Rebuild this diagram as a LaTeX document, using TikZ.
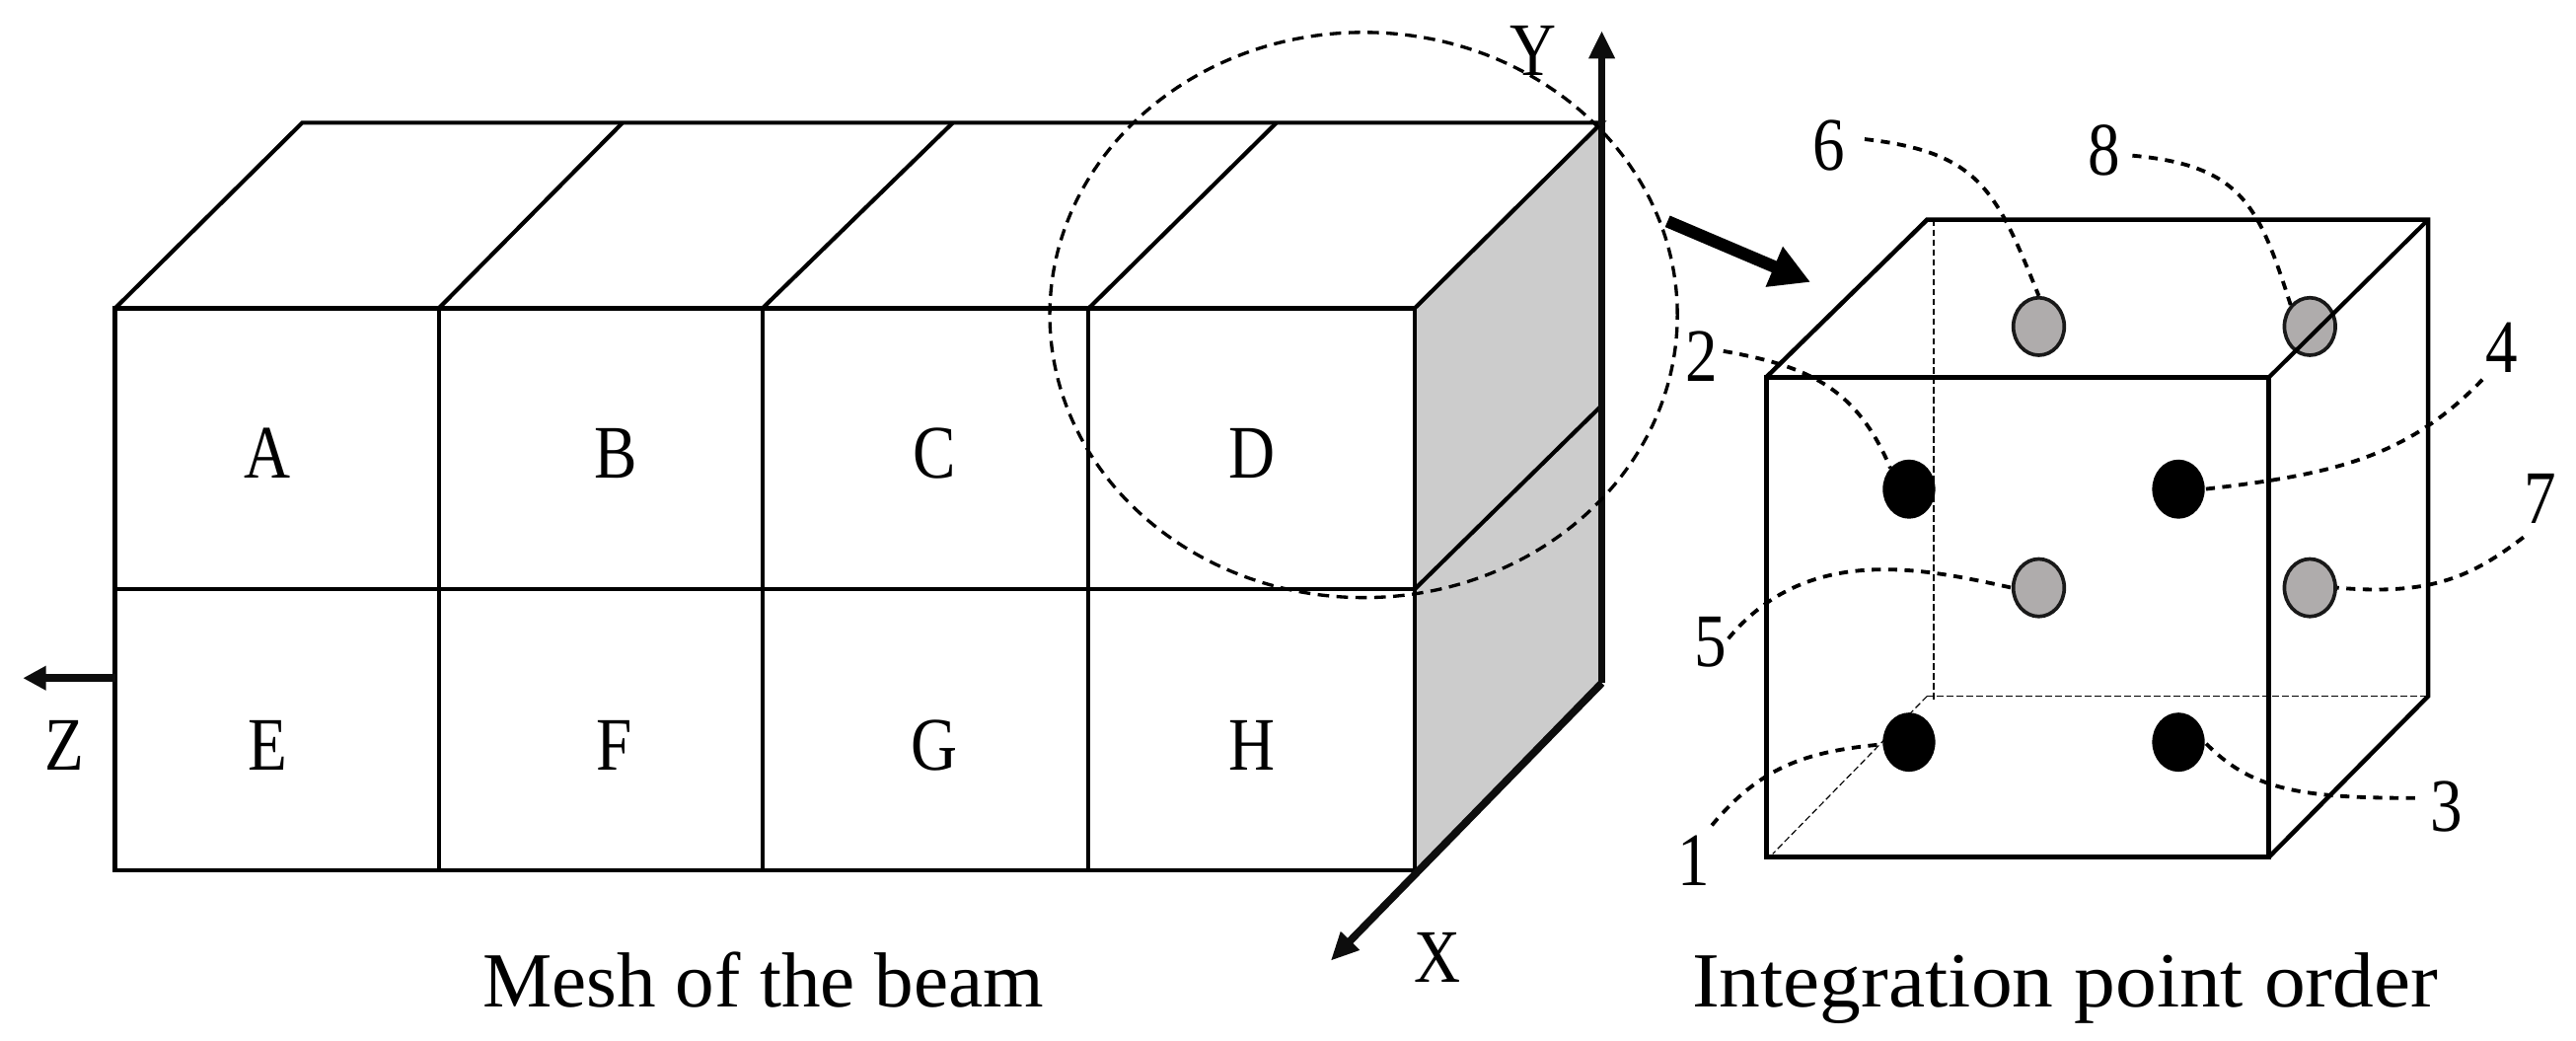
\documentclass[tikz,border=0pt]{standalone}
\usepackage{fontspec}
\setmainfont{Liberation Serif}
\newfontfamily\narrowserif[FakeStretch=0.85]{Liberation Serif}
\newfontfamily\wideserif[FakeStretch=1.056]{Liberation Serif}
\usetikzlibrary{shapes.geometric,arrows.meta}
\tikzset{
  x=1pt,y=-1pt,
  edge/.style={draw=black,line width=2.5pt,line join=miter},
  axis/.style={draw=black!95,line width=4.6pt},
  hidden/.style={draw=black,line width=0.7pt,dash pattern=on 4pt off 2pt},
  leader/.style={draw=black,line width=2.3pt,dash pattern=on 5.5pt off 4.5pt},
  lens/.style={draw=black,line width=2pt,dash pattern=on 7pt off 4.5pt},
  lab/.style={inner sep=0pt,font=\narrowserif\fontsize{46}{50}\selectfont},
  captxt/.style={inner sep=0pt,anchor=base,font=\fontsize{47.5}{52}\selectfont},
  ipblack/.style={ellipse,fill=black,draw=black,line width=1pt,minimum width=31pt,minimum height=35pt,inner sep=0pt},
  ipgray/.style={ellipse,fill=ipg,draw=black!90,line width=2.2pt,minimum width=31pt,minimum height=35pt,inner sep=0pt},
}
\definecolor{ipg}{HTML}{AFACAC}
\definecolor{panel}{HTML}{CCCCCC}
\begin{document}
\begin{tikzpicture}
\useasboundingbox (0,-0.7) rectangle (1568,632.8);
% mesh corners
\coordinate (f0t) at (70,187);\coordinate (f1t) at (267,187);\coordinate (f2t) at (464,187);\coordinate (f3t) at (662.6,187);\coordinate (f4t) at (861,187);
\coordinate (f0m) at (70,358);\coordinate (f4m) at (861,358);
\coordinate (f0b) at (70,529);\coordinate (f1b) at (267,529);\coordinate (f2b) at (464,529);\coordinate (f3b) at (662.6,529);\coordinate (f4b) at (861,529);
\coordinate (b0) at (184,74);\coordinate (b1) at (379,74);\coordinate (b2) at (580,74);\coordinate (b3) at (777,74);\coordinate (b4) at (975,74);
\coordinate (rm) at (975,246);\coordinate (rb) at (975,415);
\coordinate (ytip) at (975,18);\coordinate (xtip) at (810,584);\coordinate (zs) at (70,412);\coordinate (ztip) at (14,412);
\fill[panel] (f4t) -- (b4) -- (rb) -- (f4b) -- cycle;
\draw[edge] (f0t) rectangle (f4b);
\draw[edge] (f0m) -- (f4m);
\draw[edge] (f1t) -- (f1b);
\draw[edge] (f2t) -- (f2b);
\draw[edge] (f3t) -- (f3b);
\draw[edge] (f0t) -- (b0) -- (b4) -- (f4t);
\draw[edge] (f1t) -- (b1);
\draw[edge] (f2t) -- (b2);
\draw[edge] (f3t) -- (b3);
\draw[edge] (f4m) -- (rm);
\draw[axis,-{Triangle[length=17pt,width=15pt]}] (rb) -- (ytip);
\draw[axis,-{Triangle[length=17pt,width=15pt]}] (rb) -- (xtip);
\draw[axis,-{Triangle[length=14pt,width=14pt]}] (zs) -- (ztip);
\node[ellipse,lens,minimum width=382pt,minimum height=344pt,inner sep=0pt] (lensc) at (830,191) {};
% element labels
\node[lab] (A) at (163,275) {A};
\node[lab] (B) at (375,275) {B};
\node[lab] (C) at (569,275) {C};
\node[lab] (D) at (762,275) {D};
\node[lab] (E) at (163,453) {E};
\node[lab] (F) at (374,453) {F};
\node[lab] (G) at (569,453) {G};
\node[lab] (H) at (762,453) {H};
\node[lab] (Z) at (39,453) {Z};
\node[lab] (Y) at (933,30) {Y};
\node[lab] (X) at (875,582) {X};
\node[captxt] (mesh) at (464.5,612) {Mesh of the beam};
\node[captxt] (intp) at (1257,612) {\wideserif Integration point order};
% big arrow
\coordinate (bigs) at (1015,134);\coordinate (bige) at (1102,171);
\draw[line width=7.5pt,-{Triangle[length=24pt,width=25pt]}] (bigs) -- (bige);
% cube corners
\coordinate (cfa) at (1075,229);\coordinate (cfb) at (1381,229);\coordinate (cfc) at (1381,521);\coordinate (cfd) at (1075,521);
\coordinate (cba) at (1173,133);\coordinate (cbb) at (1478,133);\coordinate (cbc) at (1478,423);\coordinate (cbd) at (1173,423);
\coordinate (hvt) at (1177,133);\coordinate (hvb) at (1177,425);\coordinate (hde) at (1079,519);
\draw[hidden] (hvt) -- (hvb);
\draw[hidden] (cbd) -- (cbc);
\draw[hidden] (cbd) -- (hde);
% integration points
\node[ipblack] (d1) at (1162,451) {};
\node[ipblack] (d2) at (1162,297) {};
\node[ipblack] (d3) at (1326,451) {};
\node[ipblack] (d4) at (1326,297) {};
\node[ipgray] (d5) at (1241,357) {};
\node[ipgray] (d6) at (1241,198) {};
\node[ipgray] (d7) at (1406,357) {};
\node[ipgray] (d8) at (1406,198) {};
\draw[edge,line width=2.9pt] (cfa) rectangle (cfc);
\draw[edge,line width=2.7pt] (cfa) -- (cba) -- (cbb) -- (cbc) -- (cfc);
\draw[edge] (cfb) -- (cbb);
% numbers
\node[lab] (l1) at (1031,523) {1};
\node[lab] (l2) at (1036,216) {2};
\node[lab] (l3) at (1489,490) {3};
\node[lab] (l4) at (1523,211) {4};
\node[lab] (l5) at (1041,390) {5};
\node[lab] (l6) at (1113,88) {6};
\node[lab] (l7) at (1546,303) {7};
\node[lab] (l8) at (1281,91) {8};
% leaders
\draw[leader] (l1.north east) ++(1,-6) coordinate (s1) .. controls (1075,462) and (1105,455) .. (d1.center);
\draw[leader] (l2.east) ++(3,-3) coordinate (s2) .. controls (1100,222) and (1130,235) .. (d2.north west);
\draw[leader] (l3.west) ++(-9,-5) coordinate (s3) .. controls (1400,485) and (1370,480) .. (d3.east);
\draw[leader] (l4.south west) ++(-2,4) coordinate (s4) .. controls (1465,278) and (1420,288) .. (d4.east);
\draw[leader] (l5.east) ++(1,-2) coordinate (s5) .. controls (1100,330) and (1170,345) .. (d5.west);
\draw[leader] (l6.east) ++(12,-4) coordinate (s6) .. controls (1205,92) and (1215,115) .. (d6.north);
\draw[leader] (l7.south west) ++(0,8) coordinate (s7) .. controls (1505,350) and (1480,362) .. (d7.east);
\draw[leader] (l8.east) ++(7,3) coordinate (s8) .. controls (1365,100) and (1375,125) .. (d8.north west);
\end{tikzpicture}
\end{document}
